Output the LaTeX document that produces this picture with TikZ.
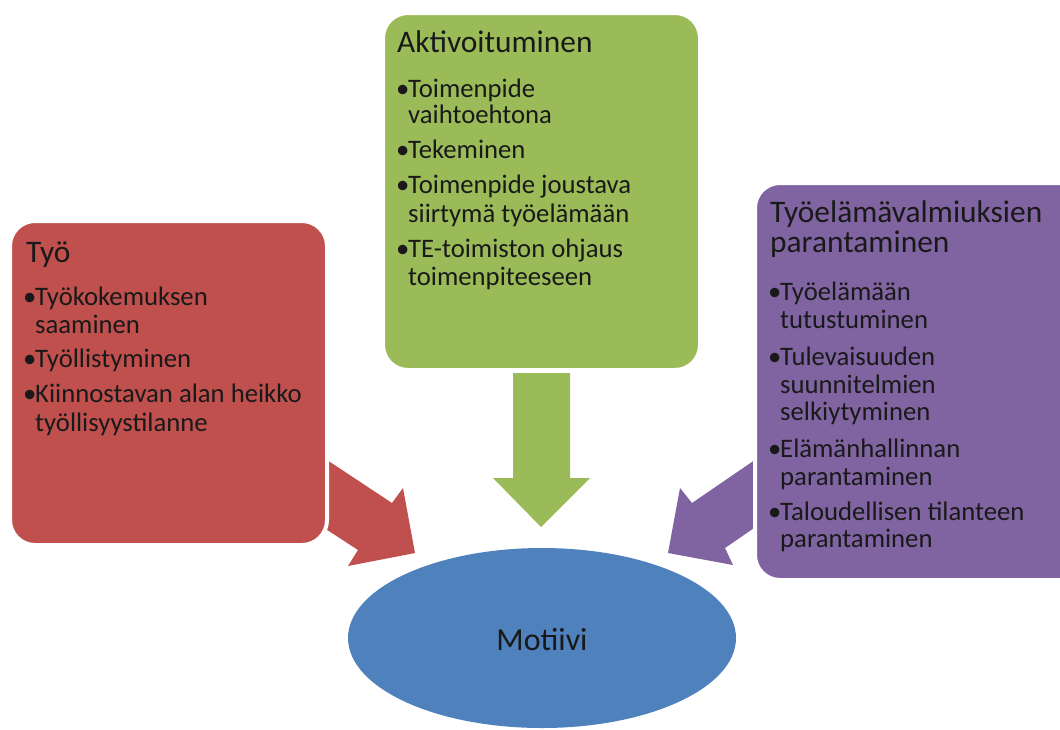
\documentclass[tikz,border=0pt]{standalone}
\usepackage{fontspec}
\setmainfont{Carlito}
\definecolor{cred}{HTML}{C0504D}
\definecolor{cgreen}{HTML}{9BBB59}
\definecolor{cpurple}{HTML}{8064A2}
\definecolor{cblue}{HTML}{4F81BD}
\begin{document}
\begin{tikzpicture}[x=1pt,y=-1pt,
  box/.style={draw=white,line width=4pt,rounded corners=25pt},
  ln/.style={anchor=base west,inner sep=0pt,text=black!90,font=\fontsize{26.7}{30}\selectfont},
  ttl/.style={anchor=base west,inner sep=0pt,text=black!90,font=\fontsize{31.4}{34}\selectfont}]
\newcommand{\bul}{\makebox[10pt][l]{\kern-2pt\textbullet}}
\newcommand{\cont}{\hspace*{10pt}}
\useasboundingbox (0,0) rectangle (1060,729);
\clip (0,0) rectangle (1060,729);
% block arrows
\fill[cred] (318,454) -- (392,503) -- (403,488) -- (415,553) -- (348,566) -- (358,550) -- (318,524) -- cycle;
\fill[cgreen] (513,373) -- (570,373) -- (570,478) -- (590,478) -- (541,527) -- (493,478) -- (513,478) -- cycle;
\fill[cpurple] (765,453) -- (692,503) -- (680,488) -- (668,553) -- (733,565) -- (725,548) -- (765,520.5) -- cycle;
% boxes
\draw[box,fill=cred] (10,221) rectangle (327,545);
\draw[box,fill=cgreen] (383,13) rectangle (700,370);
\draw[box,fill=cpurple] (755,183) rectangle (1090,580);
% ellipse
\fill[cblue] (542,638) ellipse [x radius=194, y radius=90];
\node[anchor=base,inner sep=0pt,text=black!90,font=\fontsize{32}{34}\selectfont] (mot) at (542,650) {Motiivi};
% red text
\node[ttl] (rt) at (26,262) {Työ};
\node[ln] (r1) at (25,305) {\bul Työkokemuksen};
\node[ln] (r2) at (25,333) {\cont saaminen};
\node[ln] (r3) at (25,367) {\bul Työllistyminen};
\node[ln] (r4) at (25,402) {\bul Kiinnostavan alan heikko};
\node[ln] (r5) at (25,431) {\cont työllisyystilanne};
% green text
\node[ttl] (gt) at (397,52) {Aktivoituminen};
\node[ln] (g1) at (398,97) {\bul Toimenpide};
\node[ln] (g2) at (398,123) {\cont vaihtoehtona};
\node[ln] (g3) at (398,158) {\bul Tekeminen};
\node[ln] (g4) at (398,193) {\bul Toimenpide joustava};
\node[ln] (g5) at (398,222) {\cont siirtymä työelämään};
\node[ln] (g6) at (398,257) {\bul TE-toimiston ohjaus};
\node[ln] (g7) at (398,285) {\cont toimenpiteeseen};
% purple text
\node[ttl] (pt1) at (770,222) {Työelämävalmiuksien};
\node[ttl] (pt2) at (770,252) {parantaminen};
\node[ln] (p1) at (770,300) {\bul Työelämään};
\node[ln] (p2) at (770,328) {\cont tutustuminen};
\node[ln] (p3) at (770,365) {\bul Tulevaisuuden};
\node[ln] (p4) at (770,393) {\cont suunnitelmien};
\node[ln] (p5) at (770,420) {\cont selkiytyminen};
\node[ln] (p6) at (770,457) {\bul Elämänhallinnan};
\node[ln] (p7) at (770,485) {\cont parantaminen};
\node[ln] (p8) at (770,520) {\bul Taloudellisen tilanteen};
\node[ln] (p9) at (770,547) {\cont parantaminen};
\end{tikzpicture}
\end{document}
